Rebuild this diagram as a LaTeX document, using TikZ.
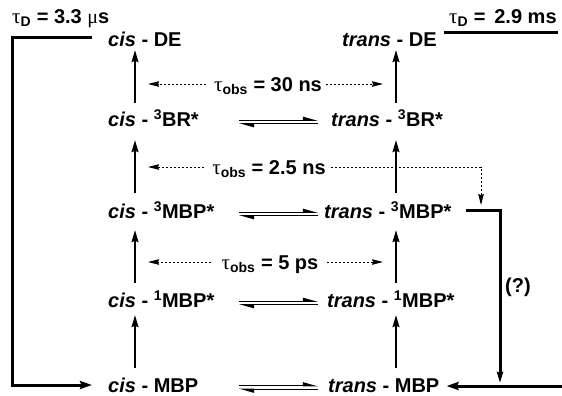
\documentclass[tikz,border=0pt]{standalone}
\usepackage{fontspec}
\setmainfont{Liberation Sans}
\newfontfamily\grk{Liberation Serif}
\usetikzlibrary{arrows.meta,calc}
\newcommand\tausym{{\grk\mdseries\fontsize{21bp}{24bp}\selectfont τ}}
\newcommand\musym{{\grk\mdseries μ}}
\begin{document}
\begin{tikzpicture}[x=1bp,y=-1bp,
  font=\fontsize{20bp}{24bp}\selectfont\bfseries,
  species/.style={inner sep=0pt,text height=14bp,text depth=0pt,anchor=west},
  lbl/.style={inner sep=0pt,text height=14bp,text depth=0pt},
  react/.style={line width=1.3bp,-{Stealth[length=12bp,width=7bp,inset=1.5bp]}},
  probe/.style={line width=1bp,dash pattern=on 2.4bp off 1.6bp,
    -{Stealth[length=11bp,width=5.5bp,inset=1bp]}},
  heavy/.style={line width=3bp},
  harp/.style={line width=1.1bp,-{Stealth[harpoon,length=13bp,width=7bp,inset=0pt]}}]
\useasboundingbox (0,0) rectangle (562,395);

% species, cis column
\node[species] (cDE)   at (108,39)    {\textit{cis} - DE};
\node[species] (cBR)   at (108,119.5) {\textit{cis} - \textsuperscript{3}BR*};
\node[species] (cMBPt) at (108,211.5) {\textit{cis} - \textsuperscript{3}MBP*};
\node[species] (cMBPs) at (108,300.5) {\textit{cis} - \textsuperscript{1}MBP*};
\node[species] (cMBP)  at (108,385)   {\textit{cis} - MBP};
% species, trans column
\node[species] (tDE)   at (342,39)    {\textit{trans} - DE};
\node[species] (tBR)   at (331,119.5) {\textit{trans} - \textsuperscript{3}BR*};
\node[species] (tMBPt) at (324,211.5) {\textit{trans} - \textsuperscript{3}MBP*};
\node[species] (tMBPs) at (327,300.5) {\textit{trans} - \textsuperscript{1}MBP*};
\node[species] (tMBP)  at (328,385)   {\textit{trans} - MBP};

% lifetimes
\node[lbl,anchor=west] (dL) at (12,16) {\tausym\textsubscript{D} = 3.3 \musym s};
\node[lbl,anchor=west] (dR) at (449,16) {\tausym\textsubscript{D} =\,\ 2.9 ms};
\node[lbl] (p1) at (268,84)  {\tausym\textsubscript{obs} = 30 ns};
\node[lbl] (p2) at (269,167) {\tausym\textsubscript{obs} = 2.5 ns};
\node[lbl] (p3) at (270,262) {\tausym\textsubscript{obs} = 5 ps};
\node[lbl,anchor=west] (q) at (505,285) {(?)};

% column lines and equilibrium columns
\coordinate (cc) at (135,0);
\coordinate (tc) at (396,0);
\coordinate (ea) at (239,0);
\coordinate (eb) at (318,0);

% vertical reaction arrows
\foreach \lo/\hi/\sa/\sb in {BR/DE/9.5/4,MBPt/BR/11.5/13.5,MBPs/MBPt/10.5/11.5,MBP/MBPs/10/7.5}{
  \draw[react,shorten <=\sa bp,shorten >=\sb bp] (c\lo.north -| cc) -- (c\hi.south -| cc);
  \draw[react,shorten <=\sa bp,shorten >=\sb bp] (t\lo.north -| tc) -- (t\hi.south -| tc);
}

% cis/trans equilibria
\foreach \r in {BR,MBPt,MBPs,MBP}{
  \draw[harp] ($(c\r.east -| ea)+(0,0.8)$) -- ($(c\r.east -| eb)+(0,0.8)$);
  \draw[harp] ($(c\r.east -| eb)+(0,4.2)$) -- ($(c\r.east -| ea)+(0,4.2)$);
}

% observed lifetimes
\draw[probe,shorten <=8bp,shorten >=13bp] (p1.west) -- (p1.west -| cc);
\draw[probe,shorten <=4bp,shorten >=13bp] (p1.east) -- (p1.east -| tc);
\draw[probe,shorten <=8bp,shorten >=13bp] (p2.west) -- (p2.west -| cc);
\coordinate (dd) at (481,205);
\draw[probe,shorten <=5bp] (p2.east) -| (dd);
\draw[probe,shorten <=10bp,shorten >=13bp] (p3.west) -- (p3.west -| cc);
\draw[probe,shorten <=8bp,shorten >=13bp] (p3.east) -- (p3.east -| tc);

% decay of cis-DE back to cis-MBP
\coordinate (la) at (92,37);
\coordinate (lb) at (12,37);
\draw[heavy,-{Stealth[length=12bp,width=8bp,inset=1.5bp]},shorten >=16bp]
  (la) -- (lb) |- (cMBP.west);

% decay of trans-DE
\coordinate (ra) at (444,32);
\coordinate (rb) at (558,32);
\draw[heavy] (ra) -- (rb);

% decay of trans-3MBP* to trans-MBP
\coordinate (rs) at (466,210);
\coordinate (rk) at (500,210);
\coordinate (rf) at (500,385);
\coordinate (re) at (562,386);
\draw[heavy,-{Stealth[length=11bp,width=6bp,inset=1bp]},shorten >=2bp] (rs) -- (rk) -- (rf);
\draw[heavy,-{Stealth[length=12bp,width=8bp,inset=1.5bp]},shorten >=7bp] (re) -- (re -| tMBP.east);
\end{tikzpicture}
\end{document}
